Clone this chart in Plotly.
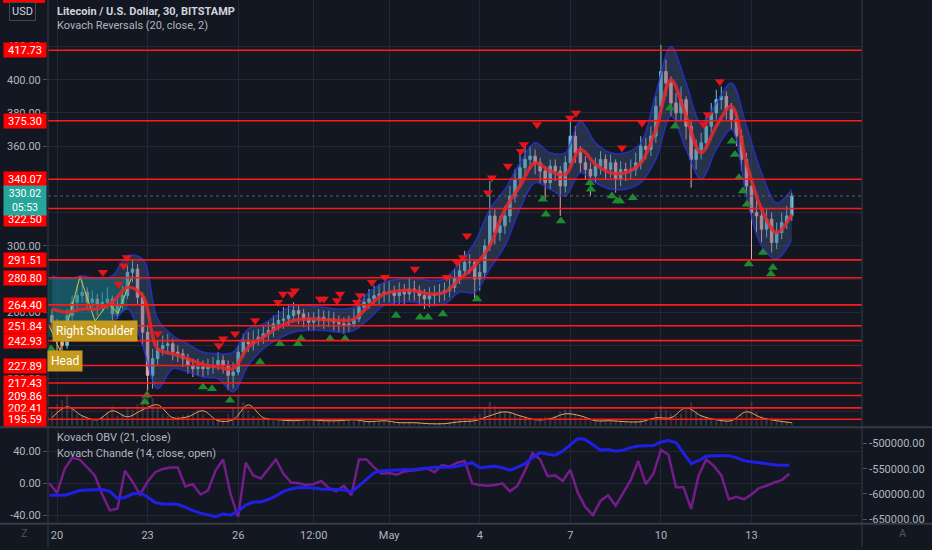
import plotly.graph_objects as go
import pandas as pd

# LTC/USD, 4h candles Apr 19 20:00 -> May 14 08:00 (2021)
candle_t = pd.date_range("2021-04-19 20:00", periods=148, freq="4h")
opens = [258, 254, 243, 240, 258, 266, 270, 272, 266, 268, 264, 266, 268, 259, 265, 270, 284, 286, 269, 248,
         222, 232, 238, 240, 241, 236, 235, 232, 228, 226, 227, 226, 227, 228, 231, 228, 222, 224, 236, 242,
         241, 243, 245, 247, 249, 253, 255, 256, 258, 261, 259, 256, 254, 255, 257, 255, 256, 254, 253, 252,
         253, 256, 263, 266, 268, 270, 271, 272, 272, 270, 272, 271, 274, 273, 270, 268, 270, 271, 272, 273,
         275, 281, 285, 290, 290, 280, 284, 300, 318, 308, 312, 318, 330, 340, 347, 352, 354, 350, 345, 338,
         348, 345, 336, 350, 366, 356, 350, 346, 342, 348, 352, 346, 350, 340, 346, 345, 346, 350, 360, 358,
         366, 384, 405, 398, 386, 380, 388, 372, 352, 358, 362, 372, 380, 388, 390, 382, 376, 366, 352, 336,
         320, 318, 310, 316, 302, 308, 314, 318]
highs = [262, 256, 248, 262, 270, 276, 279, 275, 273, 271, 272, 275, 270, 269, 276, 288, 292, 289, 272, 252,
         238, 243, 246, 247, 244, 240, 238, 235, 232, 232, 231, 232, 233, 236, 234, 231, 230, 240, 247, 248,
         249, 250, 252, 254, 258, 261, 263, 264, 266, 265, 262, 260, 260, 262, 261, 261, 260, 258, 257, 258,
         262, 268, 271, 274, 276, 277, 278, 279, 276, 278, 277, 281, 279, 276, 274, 275, 276, 277, 278, 280,
         286, 290, 297, 295, 292, 289, 304, 339, 322, 318, 324, 336, 346, 357, 360, 360, 358, 353, 348, 352,
         352, 348, 354, 376, 372, 360, 354, 350, 353, 357, 355, 355, 352, 351, 350, 352, 356, 366, 365, 372,
         390, 421, 412, 402, 392, 396, 390, 376, 364, 368, 378, 386, 394, 396, 393, 386, 380, 370, 356, 340,
         328, 322, 322, 320, 314, 320, 324, 332]
lows = [248, 236, 234, 238, 255, 262, 266, 262, 261, 258, 260, 262, 255, 256, 262, 268, 278, 265, 240, 213,
        214, 228, 234, 235, 231, 230, 227, 223, 221, 222, 221, 222, 223, 225, 223, 213, 214, 222, 233, 236,
        237, 240, 241, 243, 245, 249, 250, 252, 254, 253, 251, 249, 249, 251, 250, 251, 249, 248, 247, 248,
        251, 254, 260, 262, 264, 265, 266, 266, 264, 265, 265, 267, 267, 264, 262, 263, 265, 266, 267, 269,
        272, 277, 282, 283, 267, 273, 281, 297, 301, 303, 307, 314, 326, 336, 342, 346, 343, 338, 327, 334,
        339, 318, 332, 347, 350, 344, 340, 330, 338, 343, 340, 341, 332, 336, 339, 340, 342, 346, 352, 354,
        362, 380, 390, 378, 372, 375, 364, 335, 346, 352, 358, 368, 376, 382, 376, 370, 360, 345, 330, 292,
        308, 302, 305, 296, 298, 304, 310, 315]
closes = [254, 243, 240, 258, 266, 270, 272, 266, 268, 264, 266, 268, 259, 265, 270, 284, 286, 269, 248, 222,
          232, 238, 240, 241, 236, 235, 232, 228, 226, 227, 226, 227, 228, 231, 228, 222, 224, 236, 242, 241,
          243, 245, 247, 249, 253, 255, 256, 258, 261, 259, 256, 254, 255, 257, 255, 256, 254, 253, 252, 253,
          256, 263, 266, 268, 270, 271, 272, 272, 270, 272, 271, 274, 273, 270, 268, 270, 271, 272, 273, 275,
          281, 285, 290, 290, 280, 284, 300, 318, 308, 312, 318, 330, 340, 347, 352, 354, 350, 345, 338, 348,
          345, 336, 350, 366, 356, 350, 346, 342, 348, 352, 346, 350, 340, 346, 345, 346, 350, 360, 358, 366,
          384, 405, 398, 386, 380, 388, 372, 352, 358, 362, 372, 380, 388, 390, 382, 376, 366, 352, 336, 320,
          318, 310, 316, 302, 308, 314, 318, 330.02]
volume = [14, 22, 26, 30, 18, 12, 10, 8, 7, 6, 9, 14, 20, 10, 12, 18, 16, 22, 30, 40,
          28, 18, 12, 10, 9, 10, 11, 12, 14, 16, 12, 7, 6, 5, 6, 12, 18, 30, 24, 16,
          10, 9, 8, 8, 7, 6, 6, 7, 6, 6, 5, 6, 5, 6, 5, 5, 5, 6, 5, 6,
          7, 6, 5, 5, 4, 4, 5, 4, 3, 4, 3, 4, 3, 3, 3, 2, 3, 3, 3, 4,
          6, 7, 8, 7, 10, 12, 18, 24, 20, 16, 14, 14, 12, 10, 8, 8, 7, 8, 9, 8,
          10, 14, 16, 16, 12, 9, 8, 7, 6, 5, 6, 5, 6, 5, 5, 4, 5, 6, 6, 8,
          14, 20, 16, 12, 10, 12, 18, 24, 14, 10, 8, 7, 6, 6, 7, 6, 8, 12, 18, 24,
          14, 10, 8, 9, 7, 5, 4, 3]

# Kovach Reversals: basis + band, 12h steps
band_t = pd.date_range("2021-04-19 20:00", periods=50, freq="12h")
basis = [262, 260, 262, 262, 266, 275, 270, 238, 235, 232, 228.5, 227, 226, 239, 245, 251, 255, 256, 255.5, 255,
         256, 264, 271, 273, 273, 271, 272, 280, 288, 300, 322, 336, 350, 345, 343, 358, 349, 344, 344, 350,
         370, 400, 378, 356, 372, 384, 350, 322, 308, 319]
band_up = [282, 280, 282, 280, 282, 294, 292, 256, 246, 241, 236, 235, 236, 250, 253, 259, 264, 264, 263, 262,
           263, 272, 278, 280, 281, 279, 280, 290, 302, 322, 334, 350, 362, 356, 356, 375, 362, 356, 356, 362,
           392, 420, 398, 374, 386, 398, 372, 344, 326, 334]
band_dn = [246, 244, 250, 252, 254, 262, 240, 214, 226, 224, 221, 220, 212, 228, 238, 244, 248, 249, 249, 248,
           249, 256, 264, 266, 266, 264, 265, 272, 272, 286, 300, 322, 338, 334, 330, 344, 338, 334, 334, 338,
           352, 378, 358, 340, 358, 370, 330, 300, 292, 304]
vol_ma = [8, 19, 10, 6, 15, 9, 16, 21, 8, 9, 15, 5, 6, 21, 8, 6, 5, 6, 5, 5,
          6, 4, 5, 3, 3, 2, 2, 4, 5, 10, 14, 10, 6, 7, 12, 10, 5, 5, 4, 4,
          8, 8, 18, 10, 6, 5, 14, 8, 5, 3]

red_t = ["2021-04-21 12:30", "2021-04-22 01:00", "2021-04-22 05:00", "2021-04-22 07:30", "2021-04-23 08:00",
         "2021-04-25 08:40", "2021-04-25 12:00", "2021-04-25 21:30", "2021-04-26 13:30", "2021-04-27 07:40",
         "2021-04-27 11:40", "2021-04-27 18:40", "2021-04-27 21:00", "2021-04-28 17:00", "2021-04-28 20:00",
         "2021-04-29 06:30", "2021-04-29 09:00", "2021-04-29 22:20", "2021-04-30 00:45", "2021-04-30 10:20",
         "2021-04-30 20:40", "2021-05-01 20:25", "2021-05-02 21:50", "2021-05-03 06:00", "2021-05-03 10:35",
         "2021-05-03 13:50", "2021-05-04 06:30", "2021-05-04 09:40", "2021-05-04 22:20", "2021-05-05 08:40",
         "2021-05-05 11:00", "2021-05-05 21:30", "2021-05-06 23:45", "2021-05-07 04:30", "2021-05-08 17:00",
         "2021-05-09 09:00", "2021-05-11 10:10", "2021-05-11 13:25", "2021-05-11 22:50"]
red_p = [284, 277, 288, 293, 247, 240, 244, 247, 255, 266, 271, 271, 273, 268, 268, 267, 271, 266, 270, 278,
         281, 286, 281, 290, 293, 306, 332, 341, 348, 357, 361, 373, 377, 380, 359, 374, 373, 379, 399]
green_t = ["2021-04-19 19:15", "2021-04-22 21:50", "2021-04-22 23:30", "2021-04-24 20:00", "2021-04-25 03:10",
           "2021-04-25 17:30", "2021-04-26 17:20", "2021-04-27 09:10", "2021-04-27 23:30", "2021-04-28 02:00",
           "2021-04-29 01:00", "2021-04-29 13:00", "2021-05-01 05:30", "2021-05-02 00:30", "2021-05-02 06:50",
           "2021-05-02 18:40", "2021-05-03 21:50", "2021-05-06 02:10", "2021-05-06 04:35", "2021-05-06 16:30",
           "2021-05-07 15:35", "2021-05-07 16:20", "2021-05-08 09:05", "2021-05-08 13:00", "2021-05-08 15:25",
           "2021-05-09 01:40", "2021-05-10 07:10", "2021-05-10 11:05", "2021-05-12 08:25", "2021-05-12 10:50",
           "2021-05-12 14:00", "2021-05-12 17:10", "2021-05-12 20:20", "2021-05-12 21:50", "2021-05-13 09:05",
           "2021-05-13 15:25", "2021-05-13 17:00"]
green_p = [238, 206, 210, 215, 214, 207, 230, 241, 241, 244, 244, 244, 258, 257, 257, 259, 268, 328, 319, 315,
           338, 334, 330, 327, 327, 329, 383, 372, 363, 355, 341, 333, 325, 289, 296, 283, 287]

# head & shoulders drawing
hs_t = ["2021-04-19 17:40", "2021-04-20 02:24", "2021-04-20 18:17", "2021-04-21 06:12",
        "2021-04-21 16:32", "2021-04-22 00:29", "2021-04-22 11:36"]
hs_p = [252, 237, 281.5, 254.6, 265.3, 259.4, 281.5]
hs_fill_t = ["2021-04-19 16:50", "2021-04-22 08:00", "2021-04-22 08:00", "2021-04-21 06:00",
             "2021-04-20 02:00", "2021-04-19 16:50"]
hs_fill_p = [280.8, 280.8, 262, 250, 245, 245]

levels = [417.73, 375.30, 340.07, 322.50, 291.51, 280.80, 264.40, 251.84, 242.93, 227.89, 217.43, 209.86,
          202.41, 195.59]
last_price = 330.02

# lower pane, 6h steps
ind_t = pd.date_range("2021-04-19 18:00", periods=99, freq="6h")
chande = [0, -12, 18, 32, 30, 20, 10, -14, -34, -32, 16, 2, -14, 2, 14, 18, 20, 20, -4, -1,
          -14, -9, 16, 30, -14, -42, 26, 10, 6, 18, 30, 12, 1, 0, -2, -1, 3, -6, -10, -3,
          -15, 30, 30, 20, 12, 13, 11, 15, 16, 17, 19, 14, 23, 21, 26, 28, 0, -2, -3, -2,
          0, -10, -3, 16, 38, 30, 9, 10, 3, 17, -12, -30, -40, -22, -15, -28, -12, 4, 28, -1,
          12, 42, 36, -5, -5, -32, 10, 30, 22, 10, -20, -17, -20, -14, -6, -3, 1, 4, 12]
obv = [-602600, -602600, -602600, -598000, -593000, -592000, -591000, -591000, -595000, -609000,
       -607000, -600000, -598000, -606000, -617000, -620000, -620000, -621000, -626000, -633000,
       -638000, -642000, -645000, -640000, -642000, -634000, -622000, -616000, -616000, -611000,
       -604000, -595000, -590000, -587000, -587000, -588000, -590000, -590000, -591000, -592000,
       -596000, -584000, -570000, -558000, -554000, -553000, -553000, -552000, -552000, -550000,
       -548000, -547000, -547000, -547000, -545000, -541000, -538000, -548000, -546000, -545000,
       -548000, -553000, -547000, -540000, -528000, -518000, -521000, -523000, -515000, -503000,
       -490000, -492000, -503000, -513000, -512000, -515000, -513000, -508000, -505000, -504000,
       -504000, -497000, -494000, -498000, -518000, -540000, -534000, -525000, -524000, -524000,
       -524000, -528000, -534000, -536000, -538000, -541000, -542000, -543000, -543000]

date_ticks = ["2021-04-20", "2021-04-23", "2021-04-26", "2021-04-28 12:00", "2021-05-01",
              "2021-05-04", "2021-05-07", "2021-05-10", "2021-05-13"]
date_labels = ["20", "23", "26", "12:00", "May", "4", "7", "10", "13"]
price_ticks = [200, 220, 240, 260, 280, 300, 320, 340, 360, 380, 400, 420]
# the level tags hide these grid labels completely in the reference
hidden_ticks = [200, 240, 280, 320, 340]

BG = "#131722"
GRID = "#232734"
TXT = "#b2b5be"
FONT = "Roboto"
W, H = 932, 550
# price tags pushed aside by the last-price tag (tag level -> drawn at)
tag_moved = {322.50: 316.3}

fig = go.Figure()

# band
fig.add_trace(go.Scatter(x=band_t, y=band_up, mode="lines", line=dict(color="rgba(40,50,230,0.75)", width=1.5, shape="spline"),
                         hoverinfo="skip"))
fig.add_trace(go.Scatter(x=band_t, y=band_dn, mode="lines", line=dict(color="rgba(40,50,230,0.75)", width=1.5, shape="spline"),
                         fill="tonexty", fillcolor="rgba(70,95,140,0.38)", hoverinfo="skip"))
# H&S fill and outline
fig.add_trace(go.Scatter(x=hs_fill_t, y=hs_fill_p, mode="lines", line=dict(width=0), fill="toself",
                         fillcolor="rgba(0,150,140,0.35)", hoverinfo="skip"))

# volume
vol_colors = ["rgba(160,170,180,0.2)" if c >= o else "rgba(210,110,110,0.2)" for o, c in zip(opens, closes)]
fig.add_trace(go.Bar(x=candle_t, y=volume, marker=dict(color=vol_colors, line=dict(width=0)), yaxis="y3"))
fig.add_trace(go.Scatter(x=band_t, y=vol_ma, mode="lines", line=dict(color="#f0a35e", width=1, shape="spline"),
                         yaxis="y3"))

fig.add_trace(go.Candlestick(
    x=candle_t, open=opens, high=highs, low=lows, close=closes,
    increasing=dict(line=dict(color="#6cc3d3", width=1), fillcolor="#6cc3d3"),
    decreasing=dict(line=dict(color="#e6a8a6", width=1), fillcolor="#e6a8a6"),
    whiskerwidth=0))

fig.add_trace(go.Scatter(x=hs_t, y=hs_p, mode="lines", line=dict(color="#d8c23a", width=1)))
fig.add_trace(go.Scatter(x=band_t, y=basis, mode="lines",
                         line=dict(color="rgba(230,40,45,0.85)", width=3.5, shape="spline")))

fig.add_trace(go.Scatter(x=red_t, y=red_p, mode="markers",
                         marker=dict(symbol="triangle-down", size=9, color="#e5141b")))
fig.add_trace(go.Scatter(x=green_t, y=green_p, mode="markers",
                         marker=dict(symbol="triangle-up", size=9, color="#1c8a2e")))

# lower pane
fig.add_trace(go.Scatter(x=ind_t, y=chande, mode="lines", line=dict(color="rgba(128,30,150,0.9)", width=2.5),
                         xaxis="x2", yaxis="y2"))
fig.add_trace(go.Scatter(x=ind_t, y=obv, mode="lines", line=dict(color="#1f1fe6", width=3),
                         xaxis="x2", yaxis="y4"))

x_dom = [48 / W, 862 / W]
x_range = ["2021-04-19 16:50", "2021-05-16 15:50"]
fig.update_layout(
    width=W, height=H, margin=dict(l=0, r=0, t=0, b=0),
    paper_bgcolor=BG, plot_bgcolor=BG, showlegend=False, hovermode=False,
    font=dict(family=FONT, size=11, color=TXT),
    bargap=0.55,
    xaxis=dict(domain=x_dom, range=x_range, anchor="y", type="date", rangeslider=dict(visible=False),
               tickvals=date_ticks, showticklabels=False, showgrid=True, gridcolor=GRID, zeroline=False),
    xaxis2=dict(domain=x_dom, range=x_range, anchor="y2", type="date", matches="x",
                tickvals=date_ticks, ticktext=date_labels, showgrid=True, gridcolor=GRID,
                tickfont=dict(size=11, color=TXT), ticks="", ticklabelstandoff=4),
    yaxis=dict(domain=[1 - 428 / H, 1], range=[191.7, 448.0], side="left",
               tickvals=price_ticks,
               ticktext=["" if v in hidden_ticks else f"{v:.2f}" for v in price_ticks],
               gridcolor=GRID, zeroline=False, ticks="outside", ticklen=4, tickcolor="#50535e",
               tickfont=dict(size=11, color=TXT)),
    yaxis3=dict(overlaying="y", range=[0, 430], visible=False),
    yaxis2=dict(domain=[1 - 526 / H, 1 - 431 / H], range=[-50, 68.75], anchor="x2", side="left",
                tickvals=[-40, 0, 40], ticktext=["-40.00", "0.00", "40.00"], gridcolor=GRID, zeroline=False,
                ticks="outside", ticklen=4, tickcolor="#50535e", tickfont=dict(size=11, color=TXT)),
    yaxis4=dict(overlaying="y2", anchor="x2", side="right", range=[-657900, -470400],
                tickvals=[-650000, -600000, -550000, -500000],
                ticktext=["-650000.00", "-600000.00", "-550000.00", "-500000.00"],
                showgrid=False, zeroline=False, ticks="outside", ticklen=4, tickcolor="#50535e",
                tickfont=dict(size=11, color=TXT)),
)

shapes = []
for lv in levels:
    shapes.append(dict(type="line", xref="x domain", yref="y", x0=0, x1=1, y0=lv, y1=lv,
                       line=dict(color="#ff1a1a", width=1.6)))
shapes.append(dict(type="line", xref="x domain", yref="y", x0=0, x1=1, y0=last_price, y1=last_price,
                   line=dict(color="#5d606b", width=1, dash="dot")))
# pane borders
for yp in [1 - 429.5 / H, 1 - 526.5 / H]:
    shapes.append(dict(type="line", xref="paper", yref="paper", x0=0, x1=1, y0=yp, y1=yp,
                       line=dict(color="#363a45", width=2)))
for xp in [48 / W, 862 / W]:
    shapes.append(dict(type="line", xref="paper", yref="paper", x0=xp, x1=xp, y0=0, y1=1,
                       line=dict(color="#363a45", width=1)))
shapes.append(dict(type="rect", xref="paper", yref="paper", x0=3 / W, x1=45 / W, y0=1 - 3 / H, y1=1,
                   fillcolor="#ff0000", line=dict(width=0)))
fig.update_layout(shapes=shapes)

ann = []
for lv in levels:
    ann.append(dict(xref="paper", yref="y", x=3 / W, y=tag_moved.get(lv, lv), xanchor="left", yanchor="middle",
                    text=f"{lv:.2f}", showarrow=False, bgcolor="#ff0000", width=40, height=12,
                    borderpad=1, font=dict(size=11, color="white")))
ann.append(dict(xref="paper", yref="y", x=3 / W, y=327.3, xanchor="left", yanchor="middle",
                text=f"{last_price:.2f}<br>05:53", showarrow=False, bgcolor="#26a69a", width=40,
                borderpad=1, font=dict(size=10.5, color="white")))
ann.append(dict(xref="paper", yref="paper", x=52 / W, y=1 - 333 / H, xanchor="left", yanchor="middle",
                text="Right Shoulder", showarrow=False, bgcolor="#c49b1d", borderpad=3,
                font=dict(size=12, color="white")))
ann.append(dict(xref="paper", yref="paper", x=47 / W, y=1 - 363 / H, xanchor="left", yanchor="middle",
                text="Head", showarrow=False, bgcolor="#c49b1d", borderpad=3,
                font=dict(size=12, color="white")))
ann.append(dict(xref="paper", yref="paper", x=22 / W, y=1 - 12 / H, xanchor="center", yanchor="middle",
                text="USD", showarrow=False, bgcolor=BG, bordercolor="#434651", borderwidth=1, borderpad=2,
                font=dict(size=11, color="#d1d4dc")))
ann.append(dict(xref="paper", yref="paper", x=55 / W, y=1 - 12 / H, xanchor="left", yanchor="middle",
                text="<b>Litecoin / U.S. Dollar, 30, BITSTAMP</b>", showarrow=False,
                font=dict(size=11, color="#d1d4dc")))
ann.append(dict(xref="paper", yref="paper", x=55 / W, y=1 - 25.5 / H, xanchor="left", yanchor="middle",
                text="Kovach Reversals (20, close, 2)", showarrow=False, font=dict(size=11, color=TXT)))
ann.append(dict(xref="paper", yref="paper", x=55 / W, y=1 - 440 / H, xanchor="left", yanchor="middle",
                text="Kovach OBV (21, close)", showarrow=False, font=dict(size=11, color=TXT)))
ann.append(dict(xref="paper", yref="paper", x=55 / W, y=1 - 456 / H, xanchor="left", yanchor="middle",
                text="Kovach Chande (14, close, open)", showarrow=False, font=dict(size=11, color=TXT)))
for xp, ch in [(24, "Z"), (903, "A")]:
    ann.append(dict(xref="paper", yref="paper", x=xp / W, y=1 - 536 / H, xanchor="center", yanchor="middle",
                    text=ch, showarrow=False, font=dict(size=11, color="#50535e")))
fig.update_layout(annotations=ann)

# the page's default 8px body margin would shift the chart; remove it
fig.write_html("out.html", config={"displayModeBar": False},
               post_script="document.body.style.margin='0';document.body.style.overflow='hidden';")
